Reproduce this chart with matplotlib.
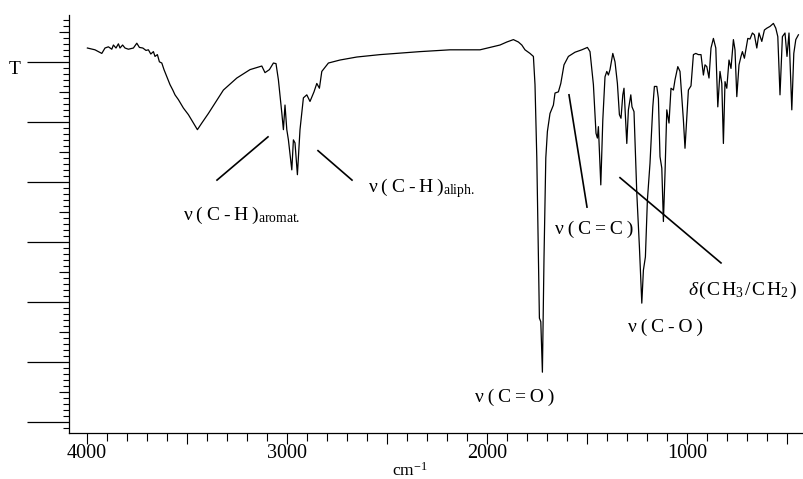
import matplotlib
matplotlib.use('Agg')
import matplotlib.pyplot as plt
from matplotlib.ticker import MultipleLocator, FixedLocator, FuncFormatter

plt.rcParams['font.family'] = ['Liberation Serif', 'DejaVu Serif']
plt.rcParams['mathtext.fontset'] = 'custom'
plt.rcParams['mathtext.rm'] = 'Liberation Serif'
plt.rcParams['mathtext.it'] = 'Liberation Serif:italic'
plt.rcParams['mathtext.bf'] = 'Liberation Serif:bold'

# IR spectrum: wavenumber (cm-1) and transmittance (arb. units)
wavenumber = [3998, 3960, 3926, 3910, 3893, 3876, 3868, 3855, 3843, 3835, 3822, 3810, 3793, 3768,
              3751, 3738, 3721, 3705, 3693, 3681, 3668, 3660, 3648, 3638, 3626, 3615, 3598, 3585,
              3571, 3560, 3543, 3518, 3493, 3468, 3448, 3426, 3393, 3318, 3251, 3185, 3126, 3110,
              3088, 3068, 3055, 3043, 3026, 3018, 3010, 3001, 2993, 2976, 2968, 2960, 2948, 2935,
              2918, 2901, 2885, 2865, 2851, 2838, 2826, 2793, 2735, 2651, 2535, 2335, 2185, 2035,
              1935, 1901, 1868, 1843, 1826, 1810, 1785, 1768, 1760, 1751, 1743, 1738, 1731, 1723,
              1715, 1706, 1698, 1685, 1668, 1660, 1643, 1631, 1615, 1593, 1560, 1526, 1498, 1485,
              1468, 1455, 1448, 1443, 1431, 1421, 1410, 1401, 1393, 1385, 1371, 1360, 1348, 1338,
              1330, 1321, 1315, 1301, 1293, 1281, 1275, 1265, 1251, 1238, 1226, 1218, 1208, 1198,
              1185, 1171, 1163, 1151, 1143, 1135, 1126, 1118, 1110, 1101, 1090, 1080, 1068, 1060,
              1046, 1035, 1026, 1018, 1010, 1001, 993, 980, 968, 956, 943, 930, 918, 910,
              901, 890, 880, 868, 856, 846, 835, 826, 818, 810, 801, 790, 780, 768,
              760, 751, 740, 730, 723, 713, 696, 685, 673, 663, 651, 640, 626, 613,
              601, 585, 568, 556, 546, 535, 523, 510, 500, 490, 476, 466, 456, 443]
transmittance = [62.3, 62.0, 61.4, 62.3, 62.5, 62.1, 62.8, 62.3, 63.0, 62.3, 62.8, 62.3, 62.1, 62.3,
                 63.1, 62.4, 62.3, 61.9, 62.0, 61.3, 61.7, 60.9, 61.2, 60.0, 59.8, 58.7, 57.3, 56.2,
                 55.3, 54.5, 53.7, 52.3, 51.2, 49.8, 48.7, 49.8, 51.4, 55.3, 57.3, 58.7, 59.3, 58.2,
                 58.7, 59.8, 59.7, 57.0, 51.5, 48.7, 52.8, 48.7, 47.0, 42.0, 47.0, 46.5, 41.2, 48.7,
                 54.0, 54.5, 53.4, 55.0, 56.4, 55.6, 58.4, 59.8, 60.3, 60.8, 61.2, 61.7, 62.0, 62.0,
                 62.8, 63.3, 63.7, 63.3, 62.8, 62.0, 61.4, 60.9, 56.2, 44.0, 27.3, 17.3, 16.7, 8.3,
                 27.3, 44.0, 48.4, 51.4, 52.8, 54.8, 55.0, 56.4, 59.5, 60.9, 61.6, 62.0, 62.4, 61.7,
                 56.2, 48.1, 47.3, 49.2, 39.5, 50.3, 57.5, 58.4, 57.8, 58.7, 61.4, 60.0, 56.4, 51.2,
                 50.6, 54.5, 55.6, 46.4, 52.0, 54.5, 52.5, 51.7, 38.1, 29.2, 19.8, 25.3, 27.5, 37.0,
                 43.1, 52.5, 55.9, 55.9, 53.9, 44.2, 42.3, 33.4, 41.4, 52.0, 49.8, 55.6, 55.3, 57.0,
                 59.2, 58.4, 54.2, 50.3, 45.6, 50.9, 55.3, 56.0, 61.2, 61.4, 61.2, 61.2, 57.8, 59.5,
                 59.2, 57.3, 62.3, 63.9, 62.3, 52.5, 58.4, 56.4, 46.4, 56.7, 55.6, 60.3, 58.9, 63.7,
                 62.0, 54.2, 59.5, 60.9, 61.7, 60.6, 63.9, 63.8, 64.8, 64.5, 62.3, 64.8, 63.4, 65.3,
                 65.6, 65.9, 66.4, 65.6, 64.2, 54.5, 64.2, 64.8, 60.9, 64.8, 52.0, 61.4, 63.7, 64.5]

# band labels (thin / hair spaces give the loose letter spacing of the original)
ts = '\u2009'
hs = '\u200a'
band_labels = [ts.join('ν(C-H)') + r'$_{\mathrm{aromat.}}$',
               ts.join('ν(C-H)') + r'$_{\mathrm{aliph.}}$',
               ts.join('ν(C=C)'),
               r'$\delta$' + hs + '(' + hs + 'C' + hs + r'H$_3$' + hs + '/' + hs + 'C' + hs + r'H$_2$' + hs + ')',
               ts.join('ν(C-O)'),
               ts.join('ν(C=O)')]
label_pos = [(3520, 33.7), (2595, 38.3), (1660, 31.3), (995, 21.2), (1295, 15.0), (2060, 3.3)]
leader_lines = [(3350, 40.3, 3095, 47.5), (2845, 45.2, 2675, 40.3), (1590, 54.5, 1500, 35.8),
                (1335, 40.7, 830, 26.5), None, None]

fig = plt.figure(figsize=(8.04, 4.79), dpi=100)
ax = fig.add_axes([69 / 804, 46 / 479, 1 - 69 / 804, 418 / 479])

ax.plot(wavenumber, transmittance, color='black', lw=0.9)

for txt, (x, y), ln in zip(band_labels, label_pos, leader_lines):
    ax.text(x, y, txt, fontsize=14, ha='left', va='baseline')
    if ln is not None:
        ax.plot([ln[0], ln[2]], [ln[1], ln[3]], color='black', lw=1.2)

ax.set_xlim(4090, 415)
ax.set_ylim(-1.83, 67.8)

for s in ['top', 'right']:
    ax.spines[s].set_visible(False)
for s in ['left', 'bottom']:
    ax.spines[s].set_linewidth(0.9)

# x axis: long ticks every 500, short every 100, labels at thousands
ax.xaxis.set_major_locator(FixedLocator([4000, 3500, 3000, 2500, 2000, 1500, 1000, 500]))
ax.xaxis.set_major_formatter(FuncFormatter(lambda v, p: '%d' % v if v % 1000 == 0 else ''))
ax.xaxis.set_minor_locator(MultipleLocator(100))
ax.tick_params(axis='x', which='major', length=8, width=0.8, labelsize=14.5, pad=0)
ax.tick_params(axis='x', which='minor', length=5.5, width=0.8)

# y axis: unlabelled, long ticks every 10, short every 1, medium at the fives
ax.yaxis.set_major_locator(MultipleLocator(10))
ax.yaxis.set_minor_locator(MultipleLocator(1))
ax.tick_params(axis='y', which='major', length=30, width=0.9, labelleft=False)
ax.tick_params(axis='y', which='minor', length=4.5, width=0.8)
sec = ax.secondary_yaxis('left')
sec.set_yticks([5, 15, 25, 35, 45, 55, 65])
sec.tick_params(axis='y', length=7, width=0.8, labelleft=False)
sec.spines['left'].set_visible(False)

fig.text(15 / 804, 1 - 70 / 479, 'T', fontsize=14, ha='center', va='center')
fig.text(410 / 804, 1 - 476 / 479, 'cm$^{-1}$', fontsize=12.5, ha='center', va='baseline')

fig.savefig('out.png', dpi=100)
